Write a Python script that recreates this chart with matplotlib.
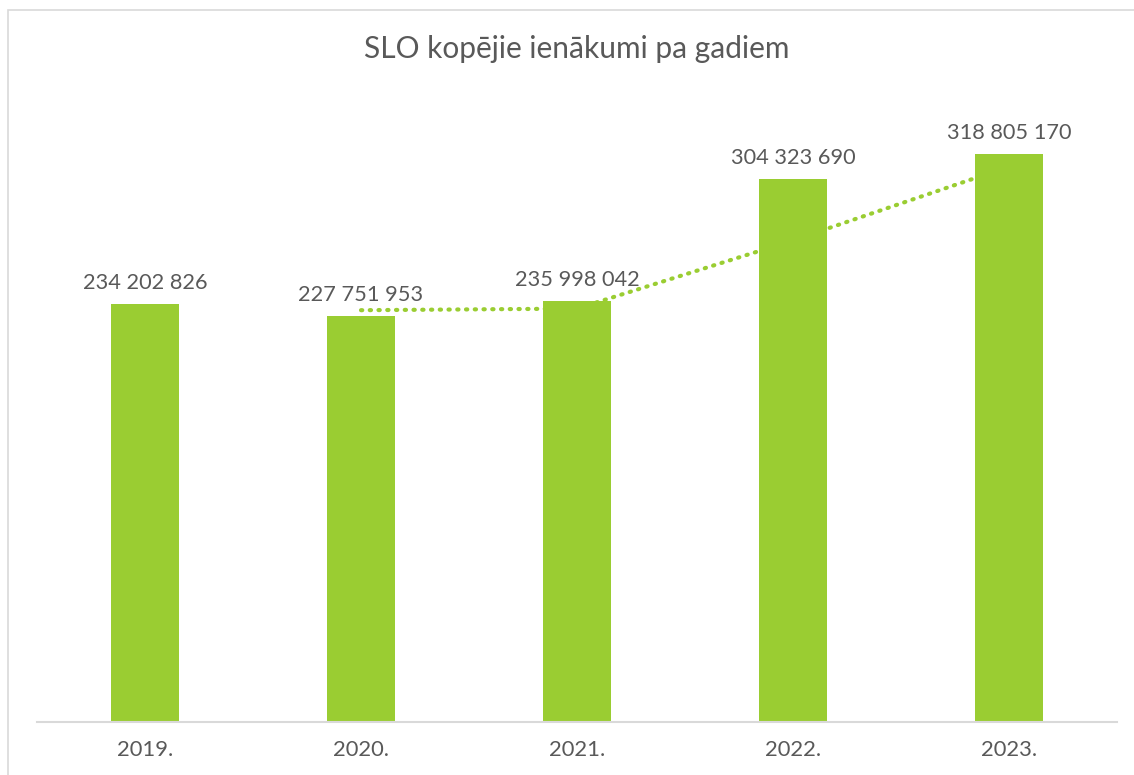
import matplotlib
matplotlib.use("Agg")
import matplotlib.pyplot as plt
import pandas as pd
from matplotlib.patches import Rectangle

years = ["2019.", "2020.", "2021.", "2022.", "2023."]
values = [234202826, 227751953, 235998042, 304323690, 318805170]
labels = ["234 202 826", "227 751 953", "235 998 042", "304 323 690", "318 805 170"]
title = "SLO kopējie ienākumi pa gadiem"

green = "#9ACD32"
txt = "#595959"
font = ["Lato", "DejaVu Sans"]

W, H = 1134, 775
fig = plt.figure(figsize=(W / 100, H / 100), dpi=100)
fig.patch.set_facecolor("white")

# chart frame
fig.add_artist(Rectangle((8 / W, -0.01), 1.2, (H - 10) / H + 0.01, transform=fig.transFigure,
                         fill=False, edgecolor="#D9D9D9", linewidth=1.2))

ax = fig.add_axes([37 / W, (H - 722) / H, (1117 - 37) / W, (722 - 98) / H])
x = list(range(len(years)))
ax.bar(x, values, width=0.315, color=green, zorder=2)

ma = pd.Series(values).rolling(2).mean()
ax.plot(x[1:], ma[1:], linestyle=(0, (0.3, 1.8)), dash_capstyle="round",
        color=green, linewidth=3, zorder=3)

for xi, v, lab in zip(x, values, labels):
    ax.annotate(lab, (xi, v), xytext=(0, 8), textcoords="offset points",
                ha="center", va="bottom", fontsize=15.7, color=txt, family=font, zorder=4)

ax.set_xlim(-0.5, 4.5)
ax.set_ylim(0, 350000000)
ax.set_xticks(x)
ax.set_xticklabels(years, fontsize=15.8, color=txt, family=font)
ax.tick_params(axis="x", length=0, pad=13)
ax.set_yticks([])
for s in ["left", "right", "top"]:
    ax.spines[s].set_visible(False)
ax.spines["bottom"].set_color("#D9D9D9")
ax.spines["bottom"].set_linewidth(1.5)

fig.text(577 / W, 1 - 49 / H, title, ha="center", va="center", fontsize=21.5, color=txt, family=font)

fig.savefig("out.png", dpi=100)
